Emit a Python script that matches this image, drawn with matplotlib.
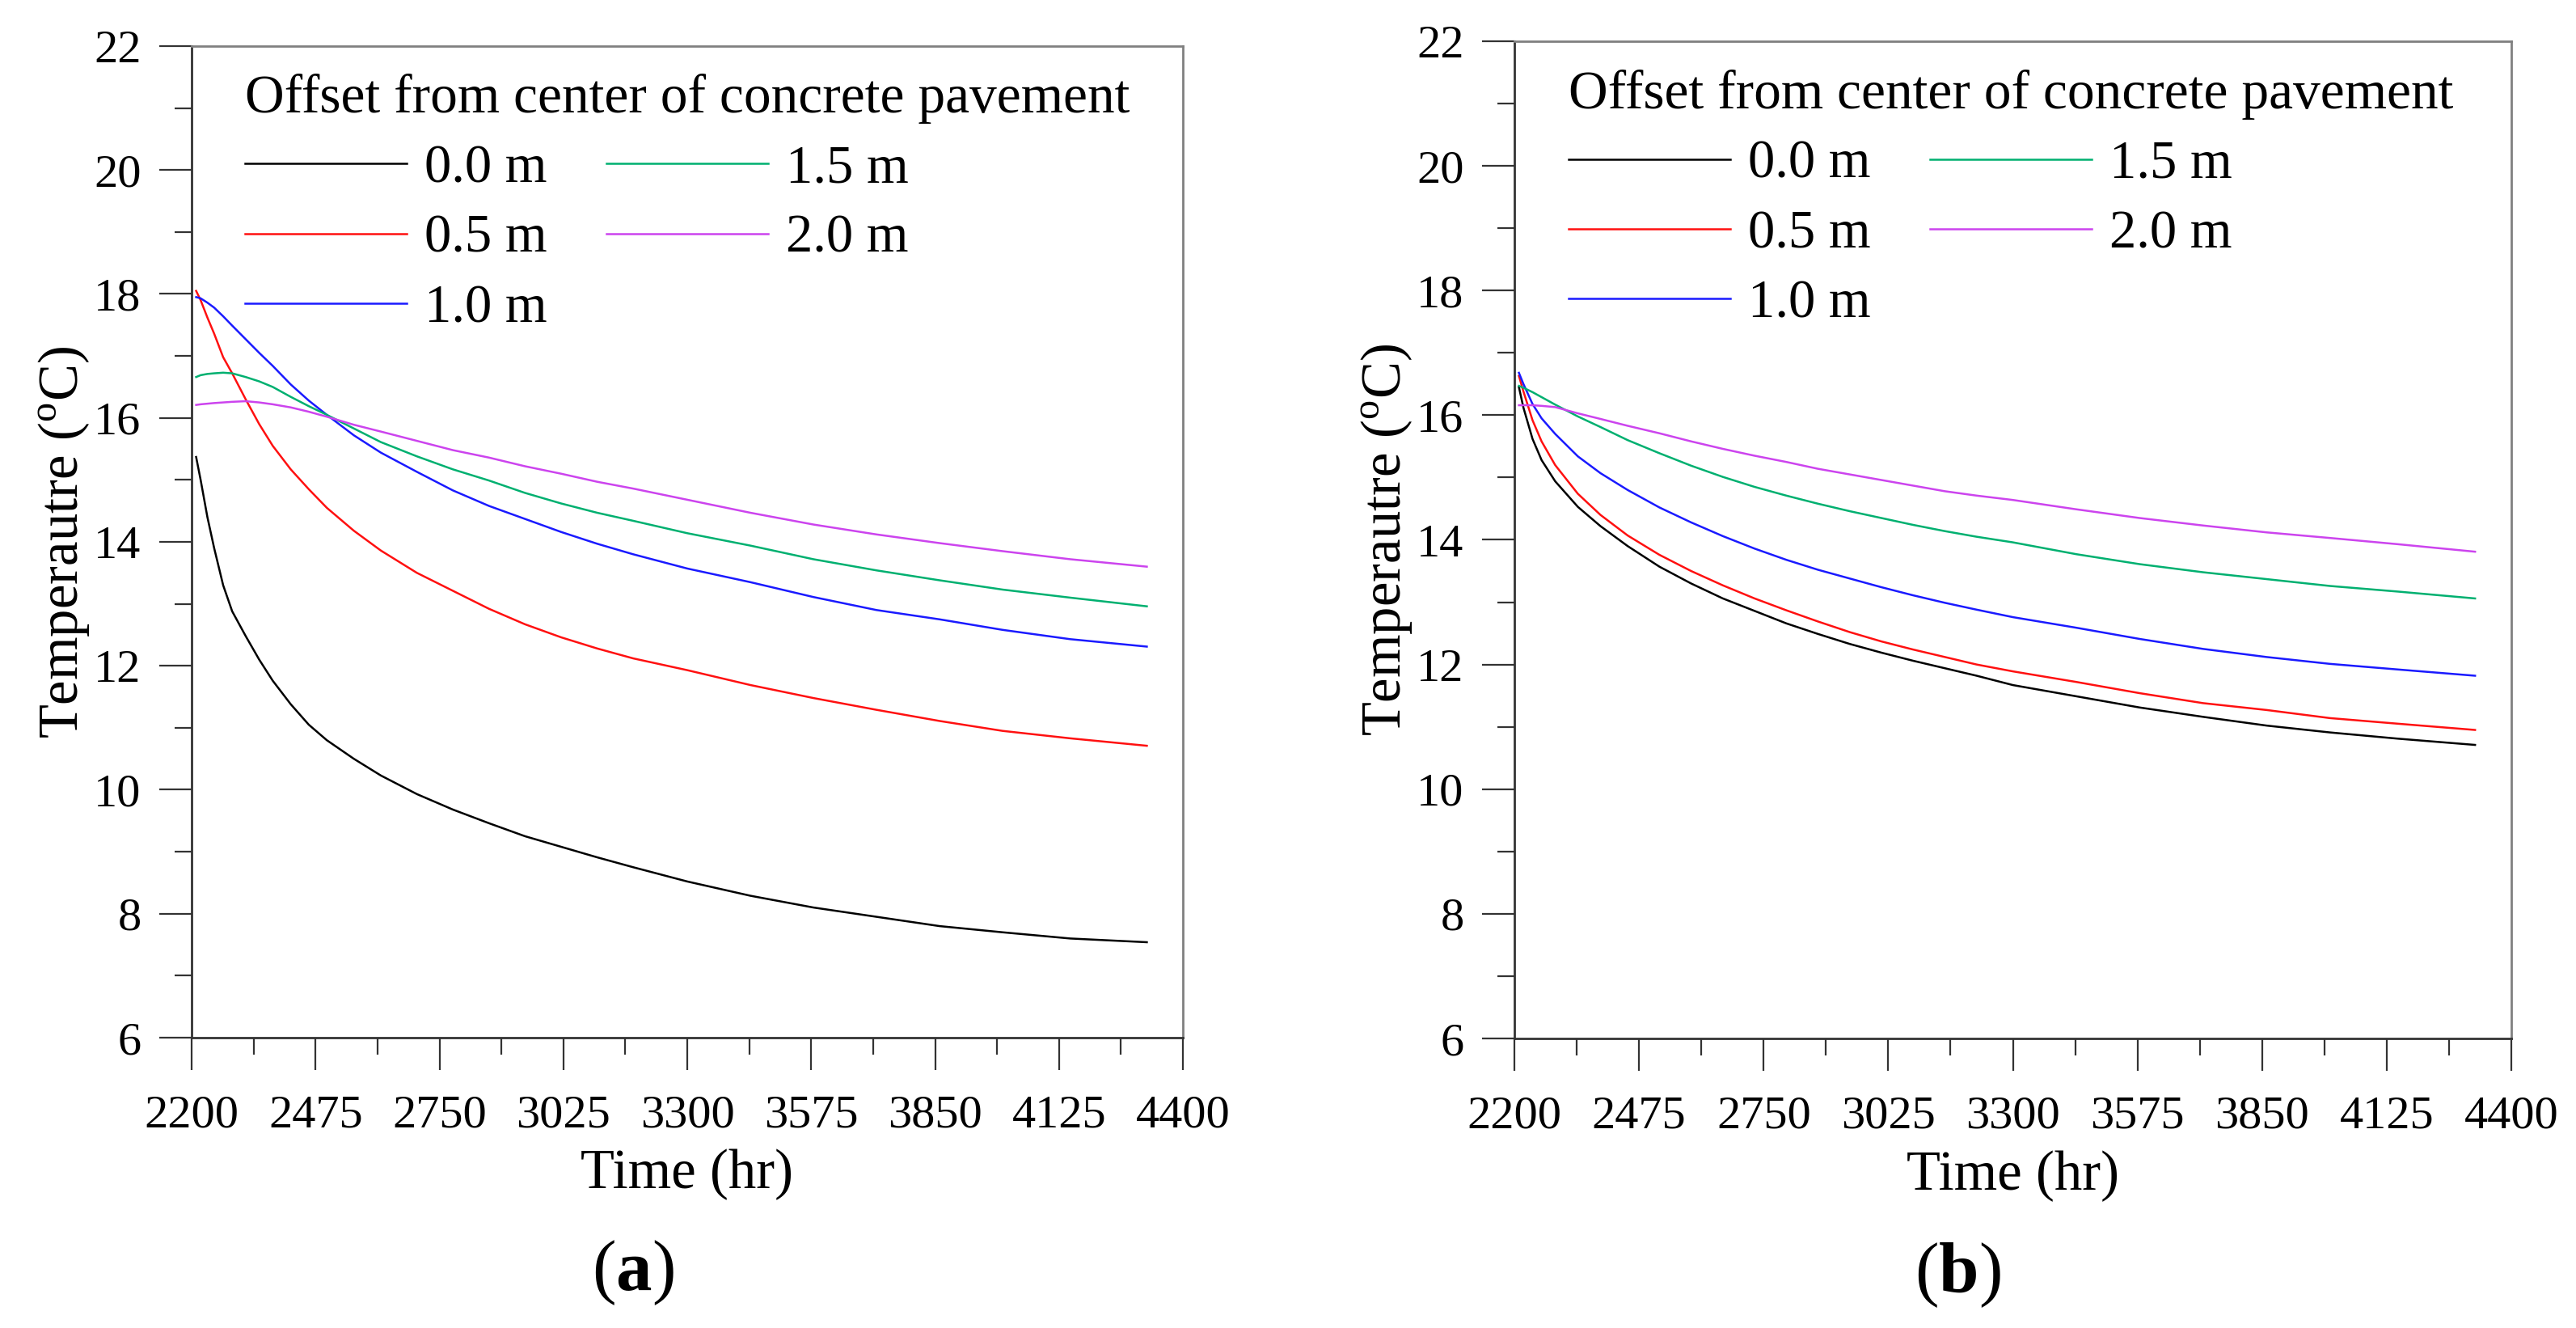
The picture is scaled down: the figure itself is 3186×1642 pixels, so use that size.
import matplotlib
matplotlib.use("Agg")
import matplotlib.pyplot as plt
from matplotlib.ticker import MultipleLocator

plt.rcParams['font.family'] = 'serif'
plt.rcParams['font.serif'] = ['Liberation Serif', 'DejaVu Serif']
plt.rcParams['mathtext.fontset'] = 'custom'
plt.rcParams['mathtext.rm'] = 'Liberation Serif'
plt.rcParams['mathtext.bf'] = 'Liberation Serif:bold'

labels = ['0.0 m', '0.5 m', '1.0 m', '1.5 m', '2.0 m']
colors = ['#000000', '#ff1010', '#1a1aff', '#00b070', '#cc44ee']

# (a) values
time_a = [2210, 2220, 2235, 2250, 2270, 2290, 2320, 2350, 2380, 2420, 2460, 2500, 2560, 2620,
          2700, 2780, 2860, 2940, 3020, 3100, 3180, 3300, 3440, 3580, 3720, 3860, 4000, 4150, 4320]
a_00 = [15.37, 15.00, 14.40, 13.90, 13.30, 12.88, 12.48, 12.10, 11.76, 11.38, 11.05, 10.80, 10.50, 10.23,
        9.93, 9.68, 9.46, 9.25, 9.08, 8.91, 8.75, 8.52, 8.29, 8.10, 7.95, 7.80, 7.70, 7.60, 7.54]
a_05 = [18.05, 17.90, 17.62, 17.36, 16.98, 16.72, 16.30, 15.90, 15.55, 15.17, 14.85, 14.55, 14.18, 13.86,
        13.50, 13.21, 12.92, 12.67, 12.46, 12.28, 12.12, 11.93, 11.69, 11.48, 11.29, 11.11, 10.95, 10.83, 10.71]
a_10 = [17.95, 17.93, 17.86, 17.78, 17.64, 17.49, 17.27, 17.05, 16.84, 16.54, 16.28, 16.05, 15.72, 15.44,
        15.13, 14.83, 14.58, 14.37, 14.16, 13.97, 13.80, 13.57, 13.35, 13.11, 12.90, 12.75, 12.58, 12.43, 12.31]
a_15 = [16.66, 16.69, 16.71, 16.72, 16.73, 16.72, 16.66, 16.59, 16.50, 16.34, 16.19, 16.05, 15.83, 15.61,
        15.38, 15.17, 14.99, 14.79, 14.62, 14.47, 14.34, 14.14, 13.94, 13.72, 13.54, 13.38, 13.23, 13.10, 12.96]
a_20 = [16.21, 16.22, 16.23, 16.24, 16.25, 16.26, 16.27, 16.25, 16.22, 16.17, 16.10, 16.02, 15.89, 15.78,
        15.63, 15.48, 15.36, 15.22, 15.10, 14.97, 14.86, 14.68, 14.47, 14.28, 14.12, 13.98, 13.85, 13.72, 13.60]

# (b)
time_b = [2210, 2220, 2240, 2260, 2290, 2340, 2390, 2450, 2520, 2590, 2660, 2730, 2800, 2870,
          2940, 3010, 3080, 3150, 3220, 3300, 3440, 3580, 3720, 3860, 4000, 4150, 4320]
b_00 = [16.45, 16.12, 15.62, 15.28, 14.94, 14.53, 14.22, 13.90, 13.57, 13.30, 13.06, 12.86, 12.66, 12.49,
        12.33, 12.19, 12.06, 11.94, 11.82, 11.67, 11.49, 11.31, 11.16, 11.02, 10.91, 10.81, 10.71]
b_05 = [16.63, 16.38, 15.92, 15.58, 15.20, 14.74, 14.40, 14.07, 13.76, 13.50, 13.27, 13.06, 12.87, 12.69,
        12.52, 12.37, 12.24, 12.12, 12.00, 11.89, 11.72, 11.54, 11.38, 11.27, 11.14, 11.05, 10.95]
b_10 = [16.68, 16.50, 16.18, 15.95, 15.70, 15.34, 15.07, 14.80, 14.52, 14.28, 14.06, 13.86, 13.68, 13.52,
        13.38, 13.24, 13.11, 12.99, 12.88, 12.76, 12.59, 12.41, 12.25, 12.12, 12.01, 11.92, 11.82]
b_15 = [16.47, 16.44, 16.37, 16.29, 16.17, 15.98, 15.81, 15.60, 15.39, 15.19, 15.01, 14.85, 14.71, 14.58,
        14.46, 14.35, 14.24, 14.14, 14.05, 13.96, 13.77, 13.61, 13.48, 13.37, 13.26, 13.17, 13.06]
b_20 = [16.16, 16.16, 16.16, 16.15, 16.13, 16.03, 15.94, 15.83, 15.71, 15.58, 15.46, 15.35, 15.25, 15.14,
        15.05, 14.96, 14.87, 14.78, 14.71, 14.64, 14.49, 14.35, 14.23, 14.12, 14.03, 13.93, 13.81]

fig = plt.figure(figsize=(31.86, 16.42), dpi=100)
ax_a = fig.add_axes([237/3186, 1-1283/1642, 1226/3186, 1226/1642])
ax_b = fig.add_axes([1873/3186, 1-1284/1642, 1233/3186, 1233/1642])


def draw(ax, t, series, tag):
    for y, c, lab in zip(series, colors, labels):
        ax.plot(t, y, color=c, lw=1.8, label=lab)
    ax.set_xlim(2200, 4400)
    ax.set_ylim(6, 22)
    ax.xaxis.set_major_locator(MultipleLocator(275))
    ax.xaxis.set_minor_locator(MultipleLocator(137.5))
    ax.yaxis.set_major_locator(MultipleLocator(2))
    ax.yaxis.set_minor_locator(MultipleLocator(1))
    ax.tick_params(which='both', direction='out', width=1.6, color='#333333',
                   top=False, right=False, labelsize=42)
    ax.tick_params(which='major', length=29)
    ax.tick_params(which='minor', length=15)
    ax.tick_params(axis='x', pad=22)
    ax.tick_params(axis='y', pad=16)
    for s in ['left', 'bottom']:
        ax.spines[s].set_color('#333333')
        ax.spines[s].set_linewidth(2.0)
    for s in ['top', 'right']:
        ax.spines[s].set_color('#808080')
        ax.spines[s].set_linewidth(2.0)
    ax.set_xlabel('Time (hr)', fontsize=49.5)
    ax.xaxis.set_label_coords(0.5, -0.112)
    ax.set_ylabel(r'Temperautre ($^{\rm o}$C)', fontsize=49.5)
    ax.yaxis.set_label_coords(-0.100, 0.5)
    leg = ax.legend(ncol=2, loc='upper left', bbox_to_anchor=(0.054, 0.972),
                    title='Offset from center of concrete pavement', title_fontsize=48.5,
                    fontsize=48, frameon=False, borderpad=0, borderaxespad=0,
                    handlelength=3.0, handletextpad=0.33, columnspacing=1.1,
                    labelspacing=0.38)
    leg._legend_box.align = 'left'
    ax.text(0.445, -0.237, r'$(\mathbf{%s})$' % tag, transform=ax.transAxes,
            ha='center', va='center', fontsize=64)


draw(ax_a, time_a, [a_00, a_05, a_10, a_15, a_20], 'a')
draw(ax_b, time_b, [b_00, b_05, b_10, b_15, b_20], 'b')

fig.savefig('out.png', dpi=100)
